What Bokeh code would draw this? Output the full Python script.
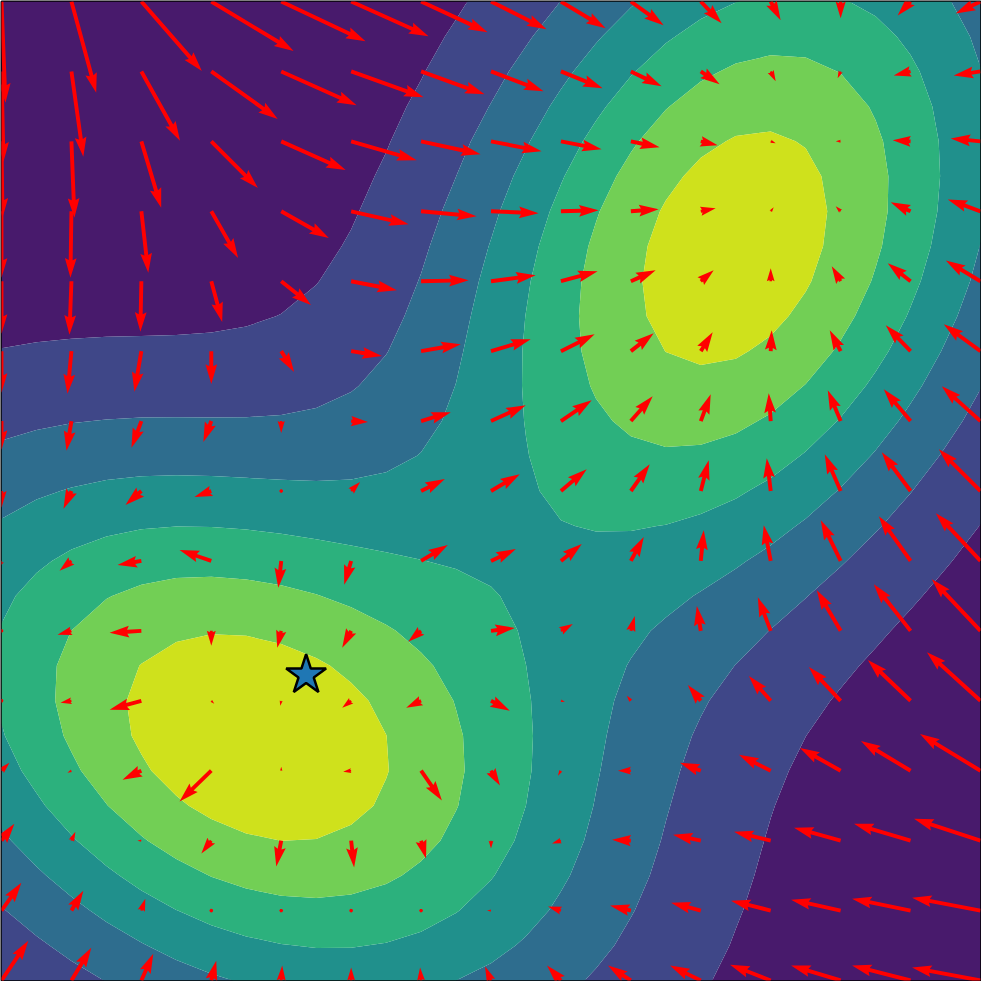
import numpy as np
from bokeh.plotting import figure
from bokeh.models import Range1d
from bokeh.palettes import Viridis256
from bokeh.embed import file_html
from bokeh.resources import INLINE

# ---------------- data ----------------
X_MIN, X_MAX = -3.0, 3.0
N_FIELD = 29          # contour grid size
N_ARROW = 15          # quiver grid size

# two Gaussian bumps
bump_cx = [-1.52, 1.5]
bump_cy = [-1.52, 1.5]
bump_sx = [1.517, 1.24]
bump_sy = [1.249, 1.55]
bump_rho = [-0.327, 0.3]
bump_amp = [1.0, 1.0]

levels = [0.0, 0.15, 0.30, 0.45, 0.60, 0.75, 0.90, 1.05]

star_x = [-1.133]
star_y = [-1.128]

# arrow components, rows from top (y = 3) to bottom (y = -3), columns left to right
# (units: pixels of the reference picture; V positive = up)
U = [
    [4, 25, 61, 83, 85, 78, 67, 56, 45, 33, 21, 10, 0, -13, -25],
    [2, 12, 39, 67, 76, 73, 64, 53, 42, 31, 19, 5, -3, -17, -27],
    [1, 3, 20, 47, 65, 66, 60, 51, 41, 29, 17, 5, -5, -18, -30],
    [0, -1, 7, 27, 48, 58, 56, 48, 38, 28, 15, 3, -5, -20, -33],
    [0, -2, -1, 11, 30, 46, 48, 45, 37, 25, 13, 0, -9, -23, -35],
    [0, -4, -7, 0, 13, 31, 40, 40, 34, 23, 12, 1, -11, -25, -37],
    [0, -5, -10, -8, 0, 17, 30, 35, 31, 22, 10, -2, -13, -27, -39],
    [0, -8, -16, -17, -3, 9, 24, 29, 26, 19, 8, -4, -16, -29, -42],
    [-5, -12, -24, -32, -3, -7, 27, 25, 21, 13, 3, -7, -20, -32, -45],
    [-3, -14, -32, 0, -4, -9, -13, 24, 12, 4, -4, -13, -24, -37, -49],
    [-3, -11, -32, 3, -1, -9, -15, 19, 4, -4, -13, -22, -32, -43, -54],
    [8, -4, -19, -32, 0, -8, 21, 9, -3, -13, -21, -32, -41, -50, -61],
    [13, 4, -4, -10, -5, 3, 5, 0, -9, -19, -28, -37, -47, -57, -67],
    [20, 12, 4, -1, 0, -1, 0, -4, -13, -21, -30, -40, -50, -59, -69],
    [27, 20, 12, 5, 1, 0, -1, -6, -14, -23, -31, -41, -50, -59, -69],
]
V = [
    [-102, -92, -70, -50, -40, -35, -31, -28, -27, -24, -22, -19, -17, -14, -12],
    [-91, -86, -70, -48, -34, -26, -23, -20, -17, -15, -13, -10, -7, -4, -4],
    [-77, -77, -67, -47, -29, -19, -13, -10, -8, -6, -4, -2, 0, 1, 3],
    [-67, -67, -62, -47, -27, -13, -5, -2, 1, 2, 3, 4, 5, 9, 12],
    [-53, -54, -51, -41, -24, -9, 1, 6, 10, 11, 11, 13, 15, 18, 21],
    [-42, -43, -41, -33, -21, -5, 7, 12, 17, 18, 19, 21, 21, 26, 27],
    [-29, -30, -27, -21, -12, -1, 9, 16, 21, 25, 27, 28, 31, 32, 35],
    [-17, -18, -14, -6, -2, 9, 12, 17, 22, 27, 31, 33, 37, 39, 42],
    [-8, -10, -4, 11, -27, -24, 16, 12, 17, 24, 31, 36, 41, 45, 48],
    [-2, -4, -2, -15, -17, -17, -11, 3, 7, 15, 25, 34, 41, 47, 52],
    [0, -2, -9, -3, -5, -7, -7, -10, -1, 5, 16, 25, 34, 41, 49],
    [8, -2, -9, -31, 4, -1, -30, -15, -5, 0, 8, 16, 23, 30, 37],
    [17, 9, 0, -13, -26, -27, -18, -8, -3, 1, 6, 9, 13, 17, 22],
    [28, 20, 12, 3, 0, -1, 0, 0, 4, 5, 8, 10, 11, 12, 13],
    [40, 33, 27, 20, 15, 13, 13, 14, 15, 15, 15, 16, 15, 15, 13],
]

# ---------------- field ----------------
g = np.linspace(X_MIN, X_MAX, N_FIELD)
XX, YY = np.meshgrid(g, g)
Z = np.zeros_like(XX)
for cx, cy, sx, sy, rho, amp in zip(bump_cx, bump_cy, bump_sx, bump_sy, bump_rho, bump_amp):
    dx = (XX - cx) / sx
    dy = (YY - cy) / sy
    q = (dx * dx - 2 * rho * dx * dy + dy * dy) / (1 - rho * rho)
    Z += amp * np.exp(-0.5 * q)

top = levels[-1]
fill_colors = []
for a, b in zip(levels[:-1], levels[1:]):
    t = 0.5 * (a + b) / top
    fill_colors.append(Viridis256[min(255, int(t * 256))])

# ---------------- figure ----------------
p = figure(width=981, height=981, output_backend="svg", toolbar_location=None,
           x_range=Range1d(X_MIN, X_MAX), y_range=Range1d(X_MIN, X_MAX),
           min_border=1, min_border_left=1, min_border_right=1,
           min_border_top=1, min_border_bottom=1)
p.axis.visible = False
p.xgrid.visible = False
p.ygrid.visible = False
p.outline_line_color = "black"
p.outline_line_width = 2
p.background_fill_color = "white"

p.contour(XX, YY, Z, levels, fill_color=fill_colors)

# ---------------- quiver (matplotlib-style arrow polygons) ----------------
span = X_MAX - X_MIN
w = 0.004 * span            # shaft width (data units)
k = span / 987.0            # reference pixel -> data units
hl, hal, hw = 5.0, 4.5, 3.0
ax_pos = np.linspace(X_MIN, X_MAX, N_ARROW)
ay_pos = np.linspace(X_MAX, X_MIN, N_ARROW)

xs, ys = [], []
for r in range(N_ARROW):
    for c in range(N_ARROW):
        u = U[r][c] * k
        v = V[r][c] * k
        L = np.hypot(u, v) / w
        if L < 1.0:
            th = np.arange(8) * np.pi / 3
            PX = np.cos(th) * 0.5
            PY = np.sin(th) * 0.5
        elif L < hl:
            s = L / hl
            PX = s * np.array([0, hl - hal, 0, hl, 0, hl - hal, 0, 0])
            PY = s * np.array([0.5, 0.5, hw / 2, 0, -hw / 2, -0.5, -0.5, 0.5])
        else:
            PX = np.array([0, L - hal, L - hl, L, L - hl, L - hal, 0, 0])
            PY = np.array([0.5, 0.5, hw / 2, 0, -hw / 2, -0.5, -0.5, 0.5])
        ang = np.arctan2(v, u)
        ca, sa = np.cos(ang), np.sin(ang)
        RX = (PX * ca - PY * sa) * w + ax_pos[c]
        RY = (PX * sa + PY * ca) * w + ay_pos[r]
        xs.append(list(RX))
        ys.append(list(RY))

p.patches(xs, ys, fill_color="#ff0000", line_color=None)

p.scatter(star_x, star_y, marker="star", size=42, fill_color="#1f77b4",
          line_color="black", line_width=2.5)

open("out.html", "w").write(file_html(p, INLINE))
